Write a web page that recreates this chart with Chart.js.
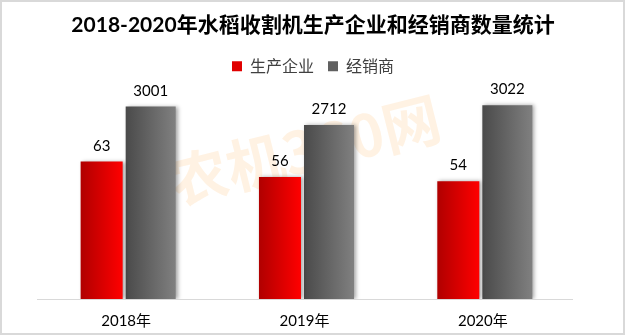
<!DOCTYPE html>
<html>
<head>
<meta charset="utf-8">
<script src="https://cdn.jsdelivr.net/npm/chart.js@4/dist/chart.umd.min.js"></script>
<style>
  html, body { margin: 0; padding: 0; background: #fff; }
  #wrap { width: 626px; height: 336px; }
</style>
</head>
<body>
<div id="wrap"><canvas id="chart" width="626" height="336"></canvas></div>
<script>
const years = ['2018年', '2019年', '2020年'];
const makers = [63, 56, 54];        // 生产企业
const dealers = [3001, 2712, 3022]; // 经销商

const FONT_LATIN = 'Lato, "Noto Sans CJK SC", sans-serif';
const FONT_CJK = '"Noto Sans CJK SC", sans-serif';

// left-to-right shading on each bar
function shade(dark, light) {
  return (c) => {
    const el = c.element;
    if (!el || !isFinite(el.x) || !isFinite(el.width)) return light;
    const g = c.chart.ctx.createLinearGradient(el.x - el.width / 2, 0, el.x + el.width / 2, 0);
    g.addColorStop(0, dark);
    g.addColorStop(1, light);
    return g;
  };
}

// invisible value axis that only reserves a fixed side margin
function hiddenAxis(position, max, side) {
  return {
    position,
    min: 0,
    max,
    grid: { display: false },
    border: { display: false },
    ticks: { display: false },
    afterFit(scale) { scale.width = side; }
  };
}

const frame = {
  id: 'frame',
  beforeDraw(chart) {
    const ctx = chart.ctx;
    ctx.save();
    ctx.fillStyle = '#fff';
    ctx.fillRect(0, 0, chart.width, chart.height);
    ctx.strokeStyle = '#d9d9d9';
    ctx.lineWidth = 2;
    ctx.strokeRect(1, 1, chart.width - 3, chart.height - 3);
    // faint site watermark
    ctx.translate(305, 150);
    ctx.rotate(-14 * Math.PI / 180);
    ctx.font = 'bold 58px ' + FONT_CJK;
    ctx.fillStyle = 'rgba(255, 165, 70, 0.15)';
    ctx.textAlign = 'center';
    ctx.textBaseline = 'middle';
    ctx.fillText('农机360网', 0, 0);
    ctx.restore();
  },
  beforeDatasetsDraw(chart) {
    const ctx = chart.ctx;
    ctx.save();
    ctx.shadowColor = 'rgba(0, 0, 0, 0.35)';
    ctx.shadowBlur = 4;
    ctx.shadowOffsetX = 2;
  },
  afterDatasetsDraw(chart) {
    const ctx = chart.ctx;
    ctx.restore();
    ctx.save();
    ctx.font = '15px ' + FONT_LATIN;
    ctx.fillStyle = '#000';
    ctx.textAlign = 'center';
    ctx.textBaseline = 'alphabetic';
    chart.data.datasets.forEach((ds, i) => {
      chart.getDatasetMeta(i).data.forEach((bar, j) => {
        ctx.fillText(String(ds.data[j]), bar.x, bar.y - 11);
      });
    });
    ctx.restore();
  }
};

const chart = new Chart(document.getElementById('chart'), {
  type: 'bar',
  data: {
    labels: years,
    datasets: [
      {
        label: '生产企业',
        data: makers,
        yAxisID: 'yMakers',
        backgroundColor: shade('#b00000', '#ff0000'),
        barPercentage: 0.857,
        categoryPercentage: 0.55
      },
      {
        label: '经销商',
        data: dealers,
        yAxisID: 'yDealers',
        backgroundColor: shade('#4a4a4a', '#808080'),
        barPercentage: 1.02,
        categoryPercentage: 0.55
      }
    ]
  },
  options: {
    responsive: false,
    animation: false,
    devicePixelRatio: 1,
    layout: { padding: 0 },
    plugins: {
      title: {
        display: true,
        text: '2018-2020年水稻收割机生产企业和经销商数量统计',
        color: '#000',
        font: { family: FONT_LATIN, size: 21, weight: 'bold' },
        padding: { top: 13, bottom: 6 }
      },
      legend: {
        position: 'top',
        labels: {
          boxWidth: 10,
          boxHeight: 10,
          padding: 14,
          color: '#404040',
          font: { family: FONT_CJK, size: 16 },
          generateLabels(chart) {
            const cols = ['#e00000', '#606060'];
            return chart.data.datasets.map((ds, i) => ({
              text: ds.label,
              fillStyle: cols[i],
              strokeStyle: cols[i],
              lineWidth: 0,
              datasetIndex: i,
              fontColor: '#404040'
            }));
          }
        }
      },
      tooltip: { enabled: false }
    },
    scales: {
      x: {
        grid: { display: false, drawTicks: false },
        border: { display: true, color: '#d9d9d9', width: 1 },
        ticks: { color: '#000', padding: 13, font: { family: FONT_LATIN, size: 15 } },
        afterFit(scale) { scale.height = 37; }
      },
      yMakers: hiddenAxis('left', 98.5, 37),
      yDealers: hiddenAxis('right', 3350, 54)
    }
  },
  plugins: [frame]
});
chart.update();
</script>
</body>
</html>
